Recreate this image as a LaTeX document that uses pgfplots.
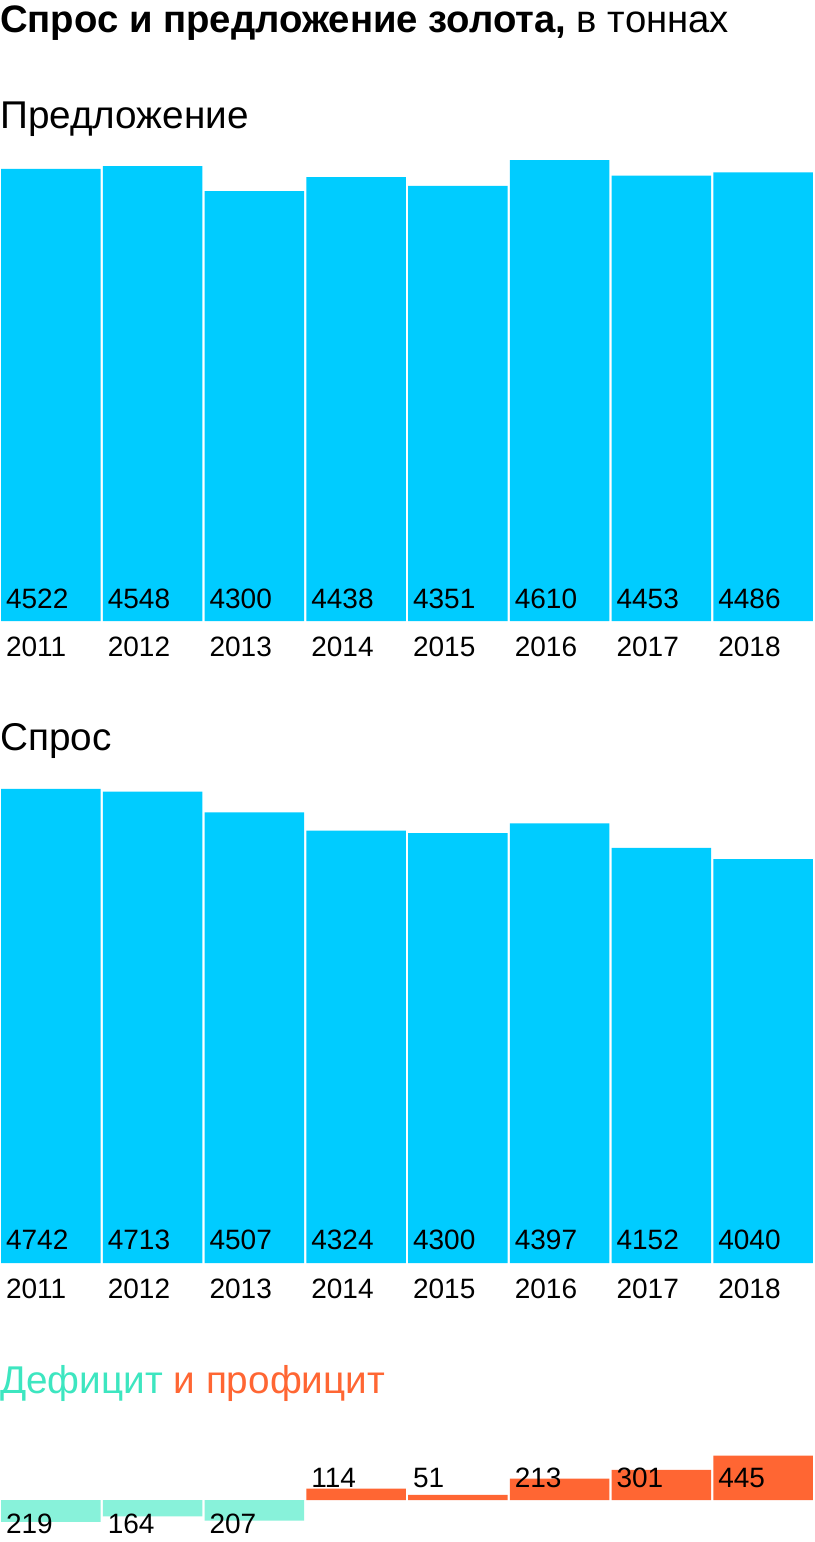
\documentclass[border=0pt]{standalone}
\usepackage{pgfplots}
\pgfplotsset{compat=1.18}
\usepackage{fontspec}
\setmainfont{Liberation Sans}
\definecolor{sky}{HTML}{00CCFF}
\definecolor{mint}{HTML}{88F2DA}
\definecolor{minttext}{HTML}{3DE6C0}
\definecolor{coral}{HTML}{FF6633}
\newcommand{\lbl}{\fontsize{28}{32}\selectfont}
\newcommand{\head}{\fontsize{38.7}{44}\selectfont}

\pgfplotsset{
  panel/.style={
    ybar, scale only axis, width=814pt,
    xmin=-0.5, xmax=7.5, bar width=0.98, bar shift=0pt,
    axis line style={draw=none}, tick style={draw=none},
    ytick=\empty, xtick=data,
    xticklabels={2011,2012,2013,2014,2015,2016,2017,2018},
    xticklabel style={anchor=base west, inner sep=0pt, xshift=-45pt, yshift=-31pt, font=\lbl},
    nodes near coords,
    visualization depends on=y \as \rawy,
    every node near coord/.append style={shift={(axis direction cs:0,-\rawy)},
      anchor=base west, inner sep=0pt, xshift=-45pt, font=\lbl, text=black},
    /pgf/number format/assume math mode=true,
    /pgf/number format/1000 sep={},
    clip=false,
  }
}

\begin{document}
\begin{tikzpicture}
\path[use as bounding box, fill=white] (0,0) rectangle (814pt,-1542pt);

\node[anchor=base west, inner sep=0pt, font=\fontsize{38.3}{44}\selectfont] at (0,-32pt)
  {\textbf{Спрос и предложение золота,} в тоннах};
\node[anchor=base west, inner sep=0pt, font=\head] at (0,-128pt) {Предложение};
\node[anchor=base west, inner sep=0pt, font=\head] at (0,-750pt) {Спрос};
\node[anchor=base west, inner sep=0pt, font=\head] at (0,-1393pt)
  {\textcolor{minttext}{Дефицит} \textcolor{coral}{и профицит}};

% supply
\begin{axis}[panel, at={(0pt,-621pt)}, anchor=south west,
  height=470pt, ymin=0, ymax=4700,
  every node near coord/.append style={yshift=13pt}]
\addplot[fill=sky, draw=none] coordinates {
  (0,4522) (1,4548) (2,4300) (3,4438) (4,4351) (5,4610) (6,4453) (7,4486)};
\end{axis}

% demand
\begin{axis}[panel, at={(0pt,-1263pt)}, anchor=south west,
  height=480pt, ymin=0, ymax=4800,
  every node near coord/.append style={yshift=14pt}]
\addplot[fill=sky, draw=none] coordinates {
  (0,4742) (1,4713) (2,4507) (3,4324) (4,4300) (5,4397) (6,4152) (7,4040)};
\end{axis}

% deficit / surplus
\begin{axis}[panel, at={(0pt,-1530pt)}, anchor=south west,
  height=80pt, ymin=-300, ymax=500, xtick=\empty, point meta=explicit]
\addplot[fill=mint, draw=none,
  every node near coord/.append style={yshift=-33pt}] coordinates {
  (0,-219) [219] (1,-164) [164] (2,-207) [207]};
\addplot[fill=coral, draw=none,
  every node near coord/.append style={yshift=13pt}] coordinates {
  (3,114) [114] (4,51) [51] (5,213) [213] (6,301) [301] (7,445) [445]};
\end{axis}
\end{tikzpicture}
\end{document}
